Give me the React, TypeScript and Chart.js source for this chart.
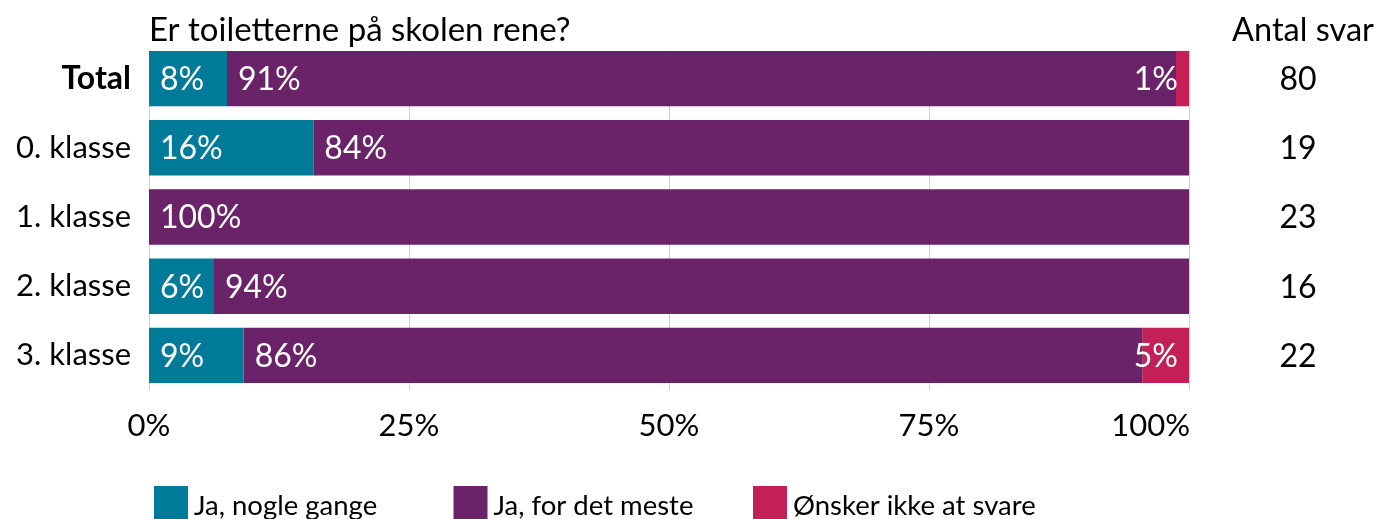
import React, { useEffect, useRef } from "react";
import { Chart, registerables } from "chart.js";

Chart.register(...registerables);

const title = "Er toiletterne på skolen rene?";
const countHeader = "Antal svar";
const categories = ["Total", "0. klasse", "1. klasse", "2. klasse", "3. klasse"];
const seriesNames = ["Ja, nogle gange", "Ja, for det meste", "Ønsker ikke at svare"];
const seriesColors = ["#007A99", "#6A2368", "#C42058"];
const jaNogleGange = [7.5, 15.8, 0, 6.25, 9.1];
const jaForDetMeste = [91.25, 84.2, 100, 93.75, 86.4];
const onskerIkke = [1.25, 0, 0, 0, 4.5];
const counts = [80, 19, 23, 16, 22];
const xTicks = [0, 25, 50, 75, 100];
const xTickLabels = ["0%", "25%", "50%", "75%", "100%"];

const FONT = "Lato, 'Noto Sans', sans-serif";
const FS = 32;

export default function App() {
  const ref = useRef<HTMLCanvasElement | null>(null);

  useEffect(() => {
    const canvas = ref.current;
    if (!canvas) return;

    const gridPlugin = {
      id: "gridBehind",
      beforeDatasetsDraw(chart: any) {
        const ctx = chart.ctx;
        const xs = chart.scales.x;
        const first = chart.getDatasetMeta(0).data[0];
        const top = first.y - first.height / 2;
        const bottom = chart.chartArea.bottom;
        ctx.save();
        ctx.strokeStyle = "#cfcfcf";
        ctx.lineWidth = 1;
        xTicks.forEach((t) => {
          const px = Math.round(xs.getPixelForValue(t)) + 0.5;
          ctx.beginPath();
          ctx.moveTo(px, top);
          ctx.lineTo(px, bottom);
          ctx.stroke();
        });
        ctx.restore();
      },
    };

    const textPlugin = {
      id: "texts",
      afterDatasetsDraw(chart: any) {
        const ctx = chart.ctx;
        const area = chart.chartArea;
        const ys = chart.scales.y;
        const xs = chart.scales.x;
        ctx.save();
        // data labels
        ctx.font = `${FS}px ${FONT}`;
        ctx.fillStyle = "#ffffff";
        ctx.textBaseline = "middle";
        const nSets = chart.data.datasets.length;
        for (let d = 0; d < nSets; d++) {
          const meta = chart.getDatasetMeta(d);
          const vals = chart.data.datasets[d].data as number[];
          meta.data.forEach((el: any, i: number) => {
            const v = vals[i];
            if (!v) return;
            const txt = Math.round(v) + "%";
            if (d === nSets - 1) {
              ctx.textAlign = "right";
              ctx.fillText(txt, el.x - 11, el.y + 1);
            } else {
              ctx.textAlign = "left";
              ctx.fillText(txt, el.base + 11, el.y + 1);
            }
          });
        }
        // x tick labels (last one kept inside the plot)
        ctx.fillStyle = "#000000";
        ctx.textBaseline = "alphabetic";
        ctx.font = `31px ${FONT}`;
        xTicks.forEach((t, i) => {
          const px = xs.getPixelForValue(t);
          const last = i === xTicks.length - 1;
          ctx.textAlign = last ? "right" : "center";
          ctx.fillText(xTickLabels[i], last ? px + 1 : px, 436);
        });
        // title & header
        ctx.textAlign = "left";
        ctx.font = `33px ${FONT}`;
        ctx.fillText(title, area.left, 41);
        ctx.textAlign = "center";
        ctx.font = `32.5px ${FONT}`;
        ctx.fillText(countHeader, 1303, 41);
        // counts
        ctx.font = `${FS}px ${FONT}`;
        ctx.textBaseline = "middle";
        counts.forEach((c, i) => {
          ctx.fillText(String(c), 1298, ys.getPixelForValue(i) + 1);
        });
        // legend
        ctx.font = `27.5px ${FONT}`;
        ctx.textAlign = "left";
        ctx.textBaseline = "alphabetic";
        seriesNames.forEach((name, i) => {
          const x0 = area.left + 5 + i * 299.5;
          ctx.fillStyle = seriesColors[i];
          ctx.fillRect(x0, 486, 34, 40);
          ctx.fillStyle = "#000000";
          ctx.fillText(name, x0 + 40, 515);
        });
        ctx.restore();
      },
    };

    const chart = new Chart(canvas, {
      type: "bar",
      data: {
        labels: categories,
        datasets: [
          { label: seriesNames[0], data: jaNogleGange, backgroundColor: seriesColors[0] },
          { label: seriesNames[1], data: jaForDetMeste, backgroundColor: seriesColors[1] },
          { label: seriesNames[2], data: onskerIkke, backgroundColor: seriesColors[2] },
        ],
      },
      options: {
        indexAxis: "y",
        responsive: false,
        animation: false,
        devicePixelRatio: 1,
        layout: { padding: { top: 44, right: 190, bottom: 0, left: 0 } },
        datasets: { bar: { barPercentage: 0.8, categoryPercentage: 1, borderWidth: 0 } },
        plugins: { legend: { display: false }, tooltip: { enabled: false }, title: { display: false } },
        scales: {
          x: {
            stacked: true,
            min: 0,
            max: 100,
            afterBuildTicks: (scale: any) => {
              scale.ticks = xTicks.map((v) => ({ value: v }));
            },
            afterFit: (scale: any) => {
              scale.height = 129;
            },
            grid: { display: false, drawTicks: false },
            border: { display: false },
            ticks: { display: false },
          },
          y: {
            stacked: true,
            afterFit: (scale: any) => {
              scale.width = 149;
            },
            grid: { display: false, drawTicks: false },
            border: { display: false },
            ticks: {
              padding: 18,
              color: "#000000",
              font: (c: any) =>
                c.index === 0
                  ? { family: FONT, size: 32, weight: "bold" }
                  : { family: FONT, size: 31, weight: "normal" },
            },
          },
        },
      },
      plugins: [gridPlugin, textPlugin],
    });
    return () => chart.destroy();
  }, []);

  return (
    <div style={{ position: "fixed", left: 0, top: 0, width: 1379, height: 519, background: "#fff" }}>
      <canvas ref={ref} width={1379} height={519} style={{ display: "block" }} />
    </div>
  );
}
